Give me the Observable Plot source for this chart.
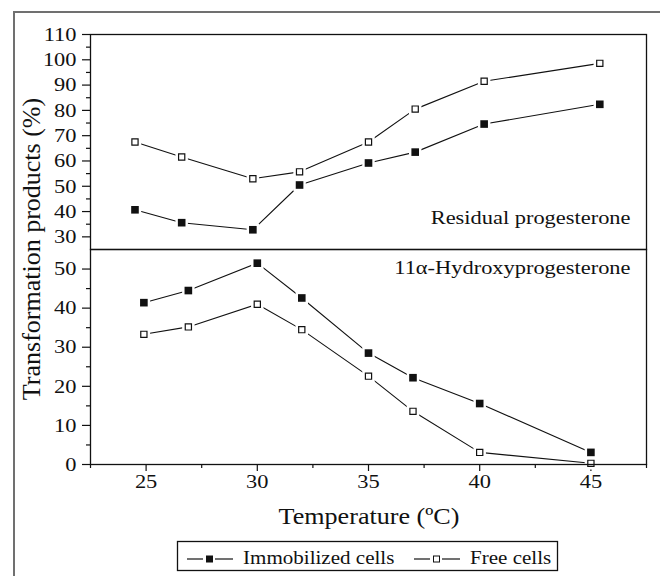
<!DOCTYPE html>
<html>
<head>
<meta charset="utf-8">
<script src="https://cdn.jsdelivr.net/npm/d3@7"></script>
<script src="https://cdn.jsdelivr.net/npm/@observablehq/plot@0.6"></script>
<style>
  body { margin: 0; background: #fff; }
  #chart { position: relative; width: 660px; height: 576px; overflow: hidden; font-family: "Liberation Serif", "Times New Roman", serif; }
  #page { position: absolute; left: 13px; top: 11px; width: 720px; height: 640px; border-left: 2px solid #707070; border-top: 2px solid #707070; }
  .layer { position: absolute; left: 0; }
</style>
</head>
<body>
<div id="chart"><div id="page"></div></div>
<script>
// Residual progesterone (upper panel)
const residualTemperature = [24.5, 26.6, 29.8, 31.9, 35.0, 37.1, 40.2, 45.4];
const residualImmobilized = [40.7, 35.6, 32.8, 50.5, 59.2, 63.5, 74.6, 82.4];
const residualFree        = [67.5, 61.6, 53.0, 55.7, 67.5, 80.5, 91.5, 98.6];

// 11α-Hydroxyprogesterone (lower panel)
const hydroxyTemperature = [24.9, 26.9, 30.0, 32.0, 35.0, 37.0, 40.0, 45.0];
const hydroxyImmobilized = [41.4, 44.5, 51.5, 42.6, 28.5, 22.2, 15.6, 3.1];
const hydroxyFree        = [33.3, 35.2, 41.0, 34.5, 22.6, 13.6, 3.1, 0.3];

const seriesNames = ["Immobilized cells", "Free cells"];
const panelNotes = ["Residual progesterone", "11α-Hydroxyprogesterone"];

const xTicks = [25, 30, 35, 40, 45];
const xMinorTicks = [22.5, 27.5, 32.5, 37.5, 42.5, 47.5];
const upperTicks = [30, 40, 50, 60, 70, 80, 90, 100, 110];
const upperMinorTicks = [35, 45, 55, 65, 75, 85, 95, 105];
const lowerTicks = [0, 10, 20, 30, 40, 50];
const lowerMinorTicks = [5, 15, 25, 35, 45];

const xTitle = "Temperature (ºC)";
const yTitle = "Transformation products (%)";

const INK = "#111";
const STRETCH = 1.15;   // typeface is set slightly wide

function rowsOf(temps, immobilized, free) {
  return [
    ...temps.map((t, i) => ({t, v: immobilized[i], series: seriesNames[0]})),
    ...temps.map((t, i) => ({t, v: free[i], series: seriesNames[1]}))
  ];
}

function seriesMarks(rows) {
  const imm = rows.filter(d => d.series === seriesNames[0]);
  const fre = rows.filter(d => d.series === seriesNames[1]);
  return [
    Plot.line(rows, {x: "t", y: "v", z: "series", stroke: INK, strokeWidth: 1.1}),
    // white halo so each line stops short of its markers
    Plot.dot(rows, {x: "t", y: "v", symbol: "square", r: 4.2, fill: "white", stroke: "white", strokeWidth: 5}),
    Plot.dot(imm, {x: "t", y: "v", symbol: "square", r: 4.3, fill: INK, stroke: "none"}),
    Plot.dot(fre, {x: "t", y: "v", symbol: "square", r: 3.5, fill: "white", stroke: INK, strokeWidth: 1.2})
  ];
}

function widen(svg) {
  svg.querySelectorAll("text").forEach(t => {
    const tr = t.getAttribute("transform");
    if (tr) {
      t.setAttribute("transform", `${tr} scale(${STRETCH},1)`);
    } else {
      const x = +(t.getAttribute("x") || 0), y = +(t.getAttribute("y") || 0);
      t.removeAttribute("x"); t.removeAttribute("y");
      t.setAttribute("transform", `translate(${x},${y}) scale(${STRETCH},1)`);
    }
  });
}

const common = {
  width: 660,
  marginLeft: 90,
  marginRight: 14,
  style: {fontFamily: "'Liberation Serif', 'Times New Roman', serif", fontSize: "19.5px", color: INK, background: "transparent", overflow: "visible"}
};

const upper = Plot.plot({
  ...common,
  height: 250,
  marginTop: 34,
  marginBottom: 1,
  x: {domain: [22.5, 47.5], axis: null},
  y: {domain: [25, 110], axis: null},
  marks: [
    Plot.axisY({ticks: upperTicks, tickSize: 8, tickPadding: 6, strokeWidth: 1.2, label: null}),
    Plot.axisY({ticks: upperMinorTicks, tickSize: 4, tickFormat: () => "", strokeWidth: 1.2, label: null}),
    ...seriesMarks(rowsOf(residualTemperature, residualImmobilized, residualFree)),
    Plot.text([panelNotes[0]], {text: d => d, frameAnchor: "bottom-right", textAnchor: "end", lineAnchor: "middle", dx: -16, dy: -32, fill: INK}),
    Plot.frame({stroke: INK, strokeWidth: 1.3})
  ]
});

const lower = Plot.plot({
  ...common,
  height: 328,
  marginTop: 1,
  marginBottom: 112,
  x: {domain: [22.5, 47.5], axis: null},
  y: {domain: [0, 55], axis: null},
  marks: [
    Plot.axisY({ticks: lowerTicks, tickSize: 8, tickPadding: 6, strokeWidth: 1.2, label: null}),
    Plot.axisY({ticks: lowerMinorTicks, tickSize: 4, tickFormat: () => "", strokeWidth: 1.2, label: null}),
    Plot.axisX({ticks: xTicks, tickSize: 7, tickPadding: 3, strokeWidth: 1.2, label: null}),
    Plot.axisX({ticks: xMinorTicks, tickSize: 4, tickFormat: () => "", strokeWidth: 1.2, label: null}),
    ...seriesMarks(rowsOf(hydroxyTemperature, hydroxyImmobilized, hydroxyFree)),
    Plot.text([panelNotes[1]], {text: d => d, frameAnchor: "top-right", textAnchor: "end", lineAnchor: "middle", dx: -16, dy: 18, fill: INK}),
    Plot.frame({stroke: INK, strokeWidth: 1.3})
  ]
});

widen(upper);
widen(lower);

const chart = document.getElementById("chart");
upper.classList.add("layer"); upper.style.top = "0px";
lower.classList.add("layer"); lower.style.top = "248px";
chart.appendChild(upper);
chart.appendChild(lower);

// Axis titles and legend
const overlay = d3.create("svg")
  .attr("class", "layer")
  .attr("width", 660).attr("height", 576)
  .style("top", "0px")
  .style("font-family", "'Liberation Serif', 'Times New Roman', serif")
  .style("fill", INK);

overlay.append("text")
  .attr("transform", `translate(369,524) scale(${STRETCH},1)`)
  .attr("text-anchor", "middle")
  .style("font-size", "22.7px")
  .text(xTitle);

overlay.append("text")
  .attr("transform", "translate(40,249) rotate(-90)")
  .attr("text-anchor", "middle")
  .style("font-size", "26px")
  .text(yTitle);

const legend = overlay.append("g");
legend.append("rect")
  .attr("x", 177.5).attr("y", 541.5).attr("width", 380).attr("height", 29)
  .attr("fill", "white").attr("stroke", INK).attr("stroke-width", 1.3);

const legendItems = [
  {name: seriesNames[0], x0: 187, filled: true},
  {name: seriesNames[1], x0: 414, filled: false}
];
const ly = 559;
for (const item of legendItems) {
  const g = legend.append("g").attr("transform", `translate(${item.x0},0)`);
  g.append("line").attr("x1", 0).attr("x2", 16).attr("y1", ly).attr("y2", ly).attr("stroke", INK).attr("stroke-width", 1.2);
  g.append("line").attr("x1", 28).attr("x2", 46).attr("y1", ly).attr("y2", ly).attr("stroke", INK).attr("stroke-width", 1.2);
  g.append("rect")
    .attr("x", item.filled ? 19 : 19.5).attr("y", ly - (item.filled ? 3.5 : 3))
    .attr("width", item.filled ? 7 : 6).attr("height", item.filled ? 7 : 6)
    .attr("fill", item.filled ? INK : "white")
    .attr("stroke", item.filled ? "none" : INK).attr("stroke-width", 1);
  g.append("text")
    .attr("transform", `translate(56,${ly + 5}) scale(${STRETCH},1)`)
    .style("font-size", "18.3px")
    .text(item.name);
}

chart.appendChild(overlay.node());
</script>
</body>
</html>
